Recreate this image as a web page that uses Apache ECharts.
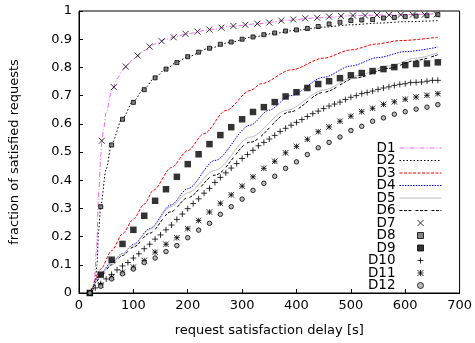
<!DOCTYPE html>
<html>
<head>
<meta charset="utf-8">
<script src="https://cdn.jsdelivr.net/npm/echarts@6/dist/echarts.min.js"></script>
<style>
  html, body { margin: 0; padding: 0; background: #fff; }
  #chart { width: 475px; height: 343px; }
</style>
</head>
<body>
<div id="chart"></div>
<script>
// ---- tick labels / axis ----
const xTicks = [0, 100, 200, 300, 400, 500, 600, 700];
const yTicks = [0, 0.1, 0.2, 0.3, 0.4, 0.5, 0.6, 0.7, 0.8, 0.9, 1];
const seriesNames = ['D1','D2','D3','D4','D5','D6','D7','D8','D9','D10','D11','D12'];

// ---- line series (D1..D6) ----
const D1_x = [15,20,25,28,32,36.6,40,42,45,50,60,70,80,90,100,120,140,160,180,200,240,280,330,380,440,500,560,660];
const D1_y = [0,0.003,0.01,0.03,0.15,0.365,0.49,0.535,0.58,0.64,0.715,0.76,0.79,0.812,0.83,0.86,0.883,0.9,0.91,0.92,0.934,0.946,0.955,0.967,0.976,0.983,0.986,0.99];

const D2_x = [15,20,25,30,33,36,40,50,60,80,100,120,140,160,180,200,240,280,320,360,400,450,500,550,600,660];
const D2_y = [0,0.003,0.01,0.03,0.1,0.22,0.31,0.44,0.53,0.62,0.68,0.725,0.765,0.795,0.818,0.838,0.868,0.89,0.908,0.921,0.932,0.943,0.951,0.957,0.962,0.966];

const D3_x = [15,20,25,30,40,60,80,100,120,137,170,200,230,270,315,335,390,450,500,547,590,660];
const D3_y = [0,0.003,0.02,0.05,0.085,0.15,0.21,0.262,0.315,0.365,0.445,0.505,0.565,0.647,0.718,0.742,0.791,0.833,0.862,0.883,0.895,0.907];

const D4_x = [15,20,25,30,40,60,80,100,130,169,200,250,315,349,389,450,500,550,600,660];
const D4_y = [0,0.003,0.02,0.045,0.07,0.11,0.14,0.172,0.228,0.312,0.37,0.47,0.595,0.648,0.70,0.765,0.805,0.835,0.856,0.872];

const D5_x = [15,20,25,30,40,60,80,100,130,169,200,250,315,382,450,510,570,620,660];
const D5_y = [0,0.003,0.02,0.04,0.065,0.105,0.14,0.17,0.225,0.306,0.355,0.435,0.553,0.648,0.72,0.77,0.805,0.833,0.852];

const D6_x = [15,20,25,30,40,60,80,100,130,169,200,250,315,388,450,510,570,620,660];
const D6_y = [0,0.003,0.018,0.035,0.06,0.1,0.133,0.163,0.212,0.288,0.338,0.418,0.535,0.642,0.712,0.763,0.797,0.825,0.845];

// ---- point series (D7..D12) ----
const D7_x = [20,42,64,86,108,130,152,174,196,218,240,262,284,306,328,350,372,394,416,438,460,482,504,526,548,570,592,614,636,658];
const D7_y = [0,0.54,0.73,0.803,0.842,0.874,0.893,0.907,0.919,0.927,0.934,0.941,0.947,0.951,0.955,0.959,0.966,0.970,0.974,0.976,0.98,0.982,0.984,0.984,0.986,0.986,0.987,0.987,0.987,0.988];

const X20 = [20,40,60,80,100,120,140,160,180,200,220,240,260,280,300,320,340,360,380,400,420,440,460,480,500,520,540,560,580,600,620,640,660];

const D8_y = [0,0.306,0.525,0.616,0.676,0.721,0.763,0.794,0.817,0.838,0.854,0.868,0.882,0.890,0.90,0.908,0.916,0.922,0.929,0.933,0.938,0.945,0.954,0.96,0.966,0.968,0.970,0.975,0.977,0.98,0.982,0.983,0.987];

const D9_y = [0,0.065,0.118,0.174,0.224,0.274,0.327,0.368,0.412,0.457,0.492,0.528,0.56,0.588,0.616,0.642,0.659,0.677,0.697,0.712,0.727,0.741,0.751,0.762,0.772,0.780,0.787,0.794,0.801,0.808,0.812,0.814,0.818];

const X10 = [20,30,40,50,60,70,80,90,100,110,120,130,140,150,160,170,180,190,200,210,220,230,240,250,260,270,280,290,300,310,320,330,340,350,360,370,380,390,400,410,420,430,440,450,460,470,480,490,500,510,520,530,540,550,560,570,580,590,600,610,620,630,640,650,660];
const D10_y = [0,0.018,0.033,0.05,0.066,0.082,0.096,0.108,0.124,0.139,0.157,0.173,0.191,0.206,0.224,0.241,0.261,0.280,0.299,0.317,0.334,0.354,0.371,0.392,0.41,0.426,0.443,0.459,0.477,0.491,0.506,0.522,0.534,0.546,0.559,0.573,0.584,0.595,0.605,0.615,0.626,0.636,0.645,0.654,0.663,0.670,0.677,0.686,0.694,0.70,0.707,0.711,0.716,0.722,0.727,0.731,0.736,0.74,0.742,0.746,0.747,0.748,0.751,0.754,0.754];

const D11_y = [0,0.029,0.056,0.074,0.092,0.115,0.145,0.173,0.196,0.228,0.257,0.287,0.318,0.348,0.379,0.412,0.442,0.467,0.497,0.52,0.545,0.572,0.589,0.609,0.627,0.643,0.655,0.669,0.678,0.687,0.695,0.701,0.707];

const D12_y = [0,0.024,0.05,0.068,0.085,0.108,0.124,0.147,0.168,0.196,0.223,0.247,0.279,0.306,0.333,0.364,0.389,0.414,0.442,0.465,0.491,0.515,0.534,0.553,0.576,0.591,0.609,0.621,0.634,0.643,0.652,0.659,0.668];

function pairs(xs, ys) { return xs.map((x, i) => [x, ys[i]]); }

const FONT = 'DejaVu Sans';
const SYM_X = 'path://M0,0L10,10M10,0L0,10';
const SYM_PLUS = 'path://M5,0L5,10M0,5L10,5';
const SYM_STAR = 'path://M0,0L10,10M10,0L0,10M5,0L5,10M0,5L10,5';
const SYM_SQ = 'path://M0,0L10,0L10,10L0,10Z';

function lineSeries(name, xs, ys, color, dash) {
  return {
    name, type: 'line', data: pairs(xs, ys),
    symbol: 'none', showSymbol: false, smooth: 0.3, smoothMonotone: 'x',
    lineStyle: { color, width: 1, type: dash },
    itemStyle: { color },
    silent: true, z: 2
  };
}
function pointSeries(name, xs, ys, symbol, size, style) {
  return {
    name, type: 'scatter', data: pairs(xs, ys),
    symbol, symbolSize: size, symbolKeepAspect: true,
    itemStyle: style, silent: true, z: 3
  };
}
const STROKE = { color: 'rgba(0,0,0,0)', borderColor: '#000', borderWidth: 1 };

const legendIcons = ['inherit','inherit','inherit','inherit','inherit','inherit', SYM_X, SYM_SQ, SYM_SQ, SYM_PLUS, SYM_STAR, 'circle'];
const legendData = seriesNames.map((n, i) => i < 6
  ? { name: n, icon: legendIcons[i], itemStyle: { opacity: 0, borderWidth: 0 } }
  : { name: n, icon: legendIcons[i] });

const chart = echarts.init(document.getElementById('chart'), null, { renderer: 'canvas' });
chart.setOption({
  animation: false,
  backgroundColor: '#fff',
  textStyle: { fontFamily: FONT },
  grid: { left: 78, right: 15, top: 11, bottom: 50, show: true, borderColor: '#000', borderWidth: 1, containLabel: false },
  xAxis: {
    type: 'value', min: xTicks[0], max: xTicks[xTicks.length - 1], interval: 100,
    name: 'request satisfaction delay [s]', nameLocation: 'middle', nameGap: 31,
    nameTextStyle: { fontFamily: FONT, fontSize: 13, color: '#000' },
    axisLine: { show: true, lineStyle: { color: '#000', width: 1 } },
    axisTick: { show: true, inside: true, length: 4, lineStyle: { color: '#000' } },
    axisLabel: { fontFamily: FONT, fontSize: 13, color: '#000', margin: 6 },
    splitLine: { show: false }
  },
  yAxis: {
    type: 'value', min: yTicks[0], max: yTicks[yTicks.length - 1], interval: 0.1,
    name: 'fraction of satisfied requests', nameLocation: 'middle', nameGap: 58,
    nameTextStyle: { fontFamily: FONT, fontSize: 13, color: '#000' },
    axisLine: { show: true, lineStyle: { color: '#000', width: 1 } },
    axisTick: { show: true, inside: true, length: 4, lineStyle: { color: '#000' } },
    axisLabel: { fontFamily: FONT, fontSize: 13, color: '#000', margin: 7 },
    splitLine: { show: false }
  },
  legend: {
    data: legendData,
    orient: 'vertical', align: 'right', right: 33, top: 141, padding: 0,
    itemWidth: 42, itemHeight: 6, itemGap: -1.5, symbolKeepAspect: true,
    itemStyle: { borderWidth: 1 },
    lineStyle: { width: 1 },
    textStyle: { fontFamily: FONT, fontSize: 13.5, color: '#000', lineHeight: 12.3, padding: [0, -1, 0, 0] },
    selectedMode: false
  },
  series: [
    lineSeries('D1', D1_x, D1_y, '#ee66ee', [5, 2, 1, 2]),
    lineSeries('D2', D2_x, D2_y, '#000000', [1.5, 2]),
    lineSeries('D3', D3_x, D3_y, '#ff0000', [3, 1.5]),
    lineSeries('D4', D4_x, D4_y, '#0000ff', [1.5, 1.2]),
    lineSeries('D5', D5_x, D5_y, '#bbbbbb', 'solid'),
    lineSeries('D6', D6_x, D6_y, '#000000', [3, 1.5, 3, 1.5, 3, 4]),
    pointSeries('D7', D7_x, D7_y, SYM_X, 6, STROKE),
    pointSeries('D8', X20, D8_y, 'rect', 4, { color: '#666', borderColor: '#000', borderWidth: 1 }),
    pointSeries('D9', X20, D9_y, 'rect', 6.5, { color: '#000', borderColor: '#000', borderWidth: 0 }),
    pointSeries('D10', X10, D10_y, SYM_PLUS, 6, STROKE),
    pointSeries('D11', X20, D11_y, SYM_STAR, 5.5, STROKE),
    pointSeries('D12', X20, D12_y, 'circle', 4.5, { color: '#aaa', borderColor: '#000', borderWidth: 1 })
  ]
});
</script>
</body>
</html>
